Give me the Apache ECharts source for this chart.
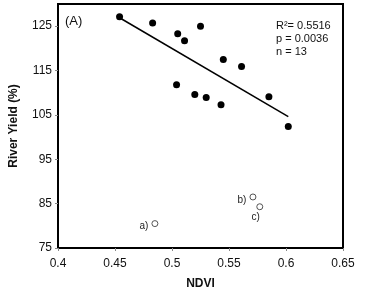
<!DOCTYPE html>
<html>
<head>
<meta charset="utf-8">
<script src="https://cdn.jsdelivr.net/npm/echarts@6/dist/echarts.min.js"></script>
<style>
  html, body { margin: 0; padding: 0; background: #fff; }
  #chart { width: 369px; height: 297px; }
</style>
</head>
<body>
<div id="chart"></div>
<script>
// filled points (used in regression)
var ndviFilled  = [0.454, 0.483, 0.505, 0.525, 0.511, 0.545, 0.561, 0.504, 0.520, 0.530, 0.543, 0.585, 0.602];
var yieldFilled = [127.1, 125.7, 123.3, 125.0, 121.7, 117.5, 115.9, 111.8, 109.6, 108.9, 107.3, 109.1, 102.4];
// excluded points
var ndviOpen  = [0.485, 0.571, 0.577];
var yieldOpen = [80.5, 86.5, 84.3];
var openNames = ['a)', 'b)', 'c)'];
// regression line ends
var trendNdvi  = [0.454, 0.602];
var trendYield = [126.9, 104.6];
var statLines = ['R\u00b2= 0.5516', 'p = 0.0036', 'n = 13'];

var font = '"Liberation Sans", Arial, sans-serif';
var chart = echarts.init(document.getElementById('chart'));

var filledData = ndviFilled.map(function (x, i) { return [x, yieldFilled[i]]; });
var trendData = trendNdvi.map(function (x, i) { return [x, trendYield[i]]; });
var labelPos = ['left', 'left', 'bottom'];
var openData = ndviOpen.map(function (x, i) {
  return {
    value: [x, yieldOpen[i]],
    name: openNames[i],
    label: { position: labelPos[i], distance: i === 2 ? 2 : 3, offset: i === 2 ? [-4, 0] : [0, 3] }
  };
});

var option = {
  animation: false,
  grid: {
    left: 58, right: 26, top: 4, bottom: 49,
    show: true, borderColor: '#000', borderWidth: 2, backgroundColor: '#fff'
  },
  xAxis: {
    type: 'value', min: 0.4, max: 0.65, interval: 0.05,
    name: 'NDVI', nameLocation: 'middle', nameGap: 30,
    nameTextStyle: { fontFamily: font, fontWeight: 'bold', fontSize: 12, color: '#111' },
    axisLine: { lineStyle: { color: '#000', width: 2 } },
    axisTick: { show: true, length: 3, lineStyle: { color: '#888' } },
    axisLabel: { fontFamily: font, fontSize: 12, color: '#111', margin: 10 },
    splitLine: { show: false }
  },
  yAxis: {
    type: 'value', min: 75, max: 130, interval: 10,
    name: 'River Yield (%)', nameLocation: 'middle', nameGap: 38,
    nameTextStyle: { fontFamily: font, fontWeight: 'bold', fontSize: 12, color: '#111' },
    axisLine: { lineStyle: { color: '#000', width: 2 } },
    axisTick: { show: true, length: 3, lineStyle: { color: '#888' } },
    axisLabel: { fontFamily: font, fontSize: 12, color: '#111', margin: 6, showMaxLabel: false },
    splitLine: { show: false }
  },
  series: [
    {
      type: 'line', data: trendData, symbol: 'none',
      lineStyle: { color: '#000', width: 1.5 }, z: 2
    },
    {
      type: 'scatter', data: filledData, symbolSize: 7,
      itemStyle: { color: '#000', opacity: 1 }, z: 3
    },
    {
      type: 'scatter', data: openData, symbolSize: 6,
      itemStyle: { color: '#fff', borderColor: '#555', borderWidth: 1, opacity: 1 },
      label: {
        show: true, formatter: '{b}',
        fontFamily: font, fontSize: 10, color: '#222'
      },
      z: 3
    }
  ],
  graphic: [
    {
      type: 'text', left: 65, top: 15,
      style: { text: '(A)', fontFamily: font, fontSize: 13, fill: '#111' }
    },
    {
      type: 'text', left: 276, top: 19,
      style: { text: statLines.join('\n'), fontFamily: font, fontSize: 11, lineHeight: 13, fill: '#111' }
    }
  ]
};
chart.setOption(option);
</script>
</body>
</html>
